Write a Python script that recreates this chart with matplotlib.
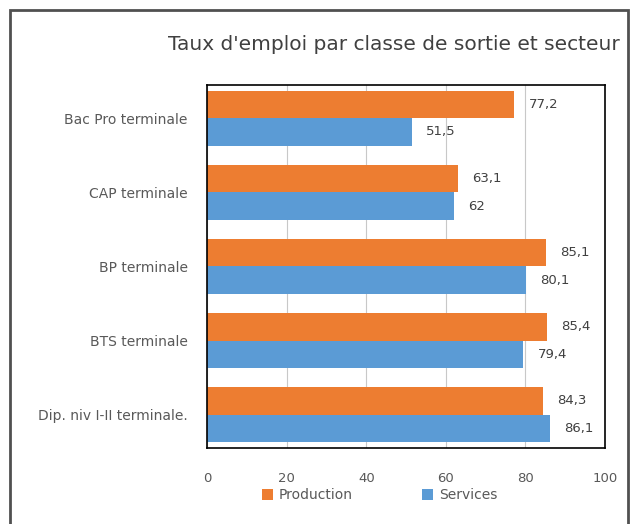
import matplotlib as mpl
mpl.use('Agg')
import matplotlib.pyplot as plt
from matplotlib.patches import Rectangle
import numpy as np

categories = ['Bac Pro terminale', 'CAP terminale', 'BP terminale',
              'BTS terminale', 'Dip. niv I-II terminale.']
production = [77.2, 63.1, 85.1, 85.4, 84.3]
services = [51.5, 62, 80.1, 79.4, 86.1]
xticks = [0, 20, 40, 60, 80, 100]

c_prod = '#ED7D31'
c_serv = '#5B9BD5'
grey = '#595959'

plt.rcParams['font.family'] = ['DejaVu Sans']

fig = plt.figure(figsize=(6.41, 5.24), dpi=100)
ax = fig.add_axes([0.323, 0.145, 0.621, 0.693])

y = np.arange(len(categories))
h = 0.37
bp = ax.barh(y - h/2, production, height=h, color=c_prod, label='Production')
bs = ax.barh(y + h/2, services, height=h, color=c_serv, label='Services')

def fmt(v):
    s = ('%g' % v).replace('.', ',')
    return s

for bars, vals in ((bp, production), (bs, services)):
    for b, v in zip(bars, vals):
        ax.text(v + 3.6, b.get_y() + b.get_height()/2, fmt(v), va='center', ha='left',
                fontsize=9.5, color='#404040')

ax.set_xlim(0, 100)
ax.set_ylim(len(categories) - 0.55, -0.45)
ax.set_xticks(xticks)
ax.set_yticks(y)
ax.set_yticklabels(categories, fontsize=10)
ax.tick_params(axis='both', length=0, colors=grey)
ax.tick_params(axis='x', labelsize=9.5, pad=17)
ax.tick_params(axis='y', pad=14)
ax.grid(axis='x', color='#c8c8c8', linewidth=0.8)
ax.set_axisbelow(True)
for s in ax.spines.values():
    s.set_color('black')
    s.set_linewidth(1.2)

fig.text(0.967, 0.915, "Taux d'emploi par classe de sortie et secteur", ha='right', va='center',
         fontsize=14.5, color='#404040')

fig.legend(handles=[bp, bs], loc='center', bbox_to_anchor=(0.592, 0.055), ncol=2, frameon=False,
           fontsize=10, labelcolor=grey, handlelength=0.8, handleheight=0.8, handletextpad=0.4,
           columnspacing=5)

frame = Rectangle((10/641, -0.05), 618/641, 1.05 - 10/524, transform=fig.transFigure,
                  fill=False, edgecolor='#505050', linewidth=2, clip_on=False)
fig.patches.append(frame)

fig.savefig('out.png', dpi=100)
